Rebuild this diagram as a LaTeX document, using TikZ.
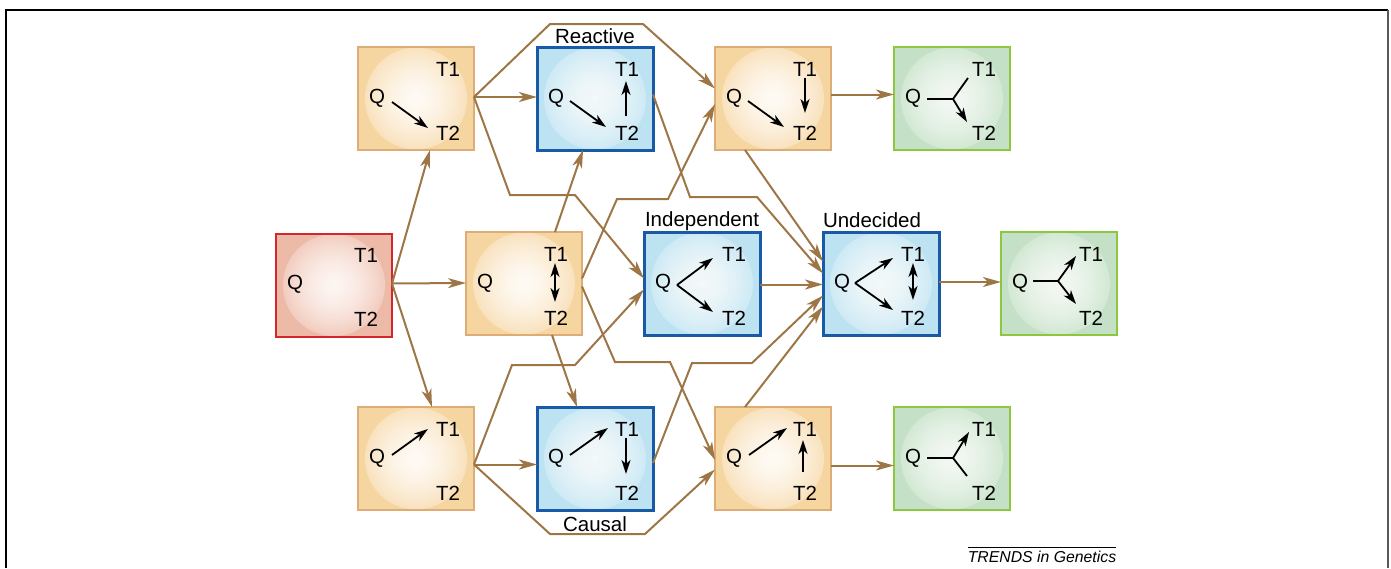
\documentclass[tikz,border=0pt]{standalone}
\usepackage{fontspec}
\setmainfont{Liberation Sans}
\usetikzlibrary{arrows.meta,calc}
\definecolor{linebrown}{RGB}{158,118,70}
\definecolor{ocorner}{RGB}{246,214,160}
\definecolor{orim}{RGB}{249,226,190}
\definecolor{ocenter}{RGB}{254,250,244}
\definecolor{oborder}{RGB}{222,172,118}
\definecolor{bcorner}{RGB}{189,226,242}
\definecolor{brim}{RGB}{206,234,245}
\definecolor{bcenter}{RGB}{243,248,249}
\definecolor{bborder}{RGB}{24,90,165}
\definecolor{gcorner}{RGB}{196,224,198}
\definecolor{grim}{RGB}{211,233,212}
\definecolor{gcenter}{RGB}{243,247,243}
\definecolor{gborder}{RGB}{141,198,63}
\definecolor{rcorner}{RGB}{237,186,167}
\definecolor{rrim}{RGB}{242,205,192}
\definecolor{rcenter}{RGB}{253,245,242}
\definecolor{rborder}{RGB}{210,40,45}
\newcommand\qtlabels[1]{%
  \node[lbl] (#1q) at ($(#1.north west)+(19,51)$) {Q};
  \node[lbl] (#1t1) at ($(#1.north west)+(90,22)$) {T1};
  \node[lbl] (#1t2) at ($(#1.north west)+(90,86)$) {T2};}
\begin{document}
\begin{tikzpicture}[x=1pt,y=-1pt,
  conn/.style={draw=linebrown, line width=2pt, -{Stealth[length=18pt,width=10pt,inset=5pt]}},
  inarr/.style={draw=black, line width=1.8pt, -{Stealth[length=14pt,width=9pt,inset=4pt]}},
  inline/.style={draw=black, line width=1.8pt},
  dblarr/.style={draw=black, line width=1.8pt, {Stealth[length=14pt,width=9pt,inset=4pt]}-{Stealth[length=14pt,width=9pt,inset=4pt]}},
  lbl/.style={font=\fontsize{20.5}{24}\selectfont, inner sep=0pt},
  box/.style={rectangle, minimum width=116pt, minimum height=103pt, inner sep=0pt, outer sep=0pt,
     path picture={\fill[#1corner] (path picture bounding box.south west) rectangle (path picture bounding box.north east);
       \foreach \k in {0,...,30}{%
         \pgfmathsetmacro\rr{51*(1-\k/31)}%
         \pgfmathsetmacro\pc{100*(1-(1-\k/31)^1.6)}%
         \fill[#1center!\pc!#1rim] (path picture bounding box.center) circle (\rr pt);}},
     draw=#1border},
  obox/.style={box=o, line width=2pt},
  bbox/.style={box=b, line width=3pt},
  gbox/.style={box=g, line width=2pt},
  rbox/.style={box=r, line width=2pt},
]
\useasboundingbox (0,0) rectangle (1391,568);
% frame
\draw[line width=1.5pt] (6,568) -- (6,10) -- (1388,10);
\draw[line width=2.5pt, black!65] (1388,10) -- (1388,568);

% boxes
\node[rbox] (R) at (334,285) {};
\node[obox] (A1) at (416,98.5) {};
\node[bbox] (B1) at (595,98.5) {};
\node[obox] (C1) at (773,98.5) {};
\node[gbox] (D1) at (952,98.5) {};
\node[obox] (A2) at (524,283.5) {};
\node[bbox] (B2) at (702,283.5) {};
\node[bbox] (C2) at (881,283.5) {};
\node[gbox] (D2) at (1059,283.5) {};
\node[obox] (A3) at (416,458.5) {};
\node[bbox] (B3) at (595,458.5) {};
\node[obox] (C3) at (773,458.5) {};
\node[gbox] (D3) at (952,458.5) {};

\qtlabels{R}\qtlabels{A1}\qtlabels{B1}\qtlabels{C1}\qtlabels{D1}
\qtlabels{A2}\qtlabels{B2}\qtlabels{C2}\qtlabels{D2}
\qtlabels{A3}\qtlabels{B3}\qtlabels{C3}\qtlabels{D3}

% inner glyph arrows
\begin{scope}[shift={(A1.north west)}] \draw[inarr] (34,55) -- (70,81); \end{scope}
\begin{scope}[shift={(B1.north west)}] \draw[inarr] (33,54) -- (69,80); \draw[inarr] (89,69) -- (89,34); \end{scope}
\begin{scope}[shift={(C1.north west)}] \draw[inarr] (33,54) -- (69,80); \draw[inarr] (90,31) -- (90,66); \end{scope}
\begin{scope}[shift={(D1.north west)}] \draw[inline] (33,52) -- (59,52) -- (74,31); \draw[inarr] (59,52) -- (73,75); \end{scope}
\begin{scope}[shift={(A2.north west)}] \draw[dblarr] (89,31) -- (89,70); \end{scope}
\begin{scope}[shift={(B2.north west)}] \draw[inarr] (33,53) -- (69,26); \draw[inarr] (33,53) -- (69,80); \end{scope}
\begin{scope}[shift={(C2.north west)}] \draw[inarr] (32,51) -- (70,26); \draw[inarr] (32,51) -- (70,78); \draw[dblarr] (90,31) -- (90,68); \end{scope}
\begin{scope}[shift={(D2.north west)}] \draw[inline] (32,49) -- (57,49); \draw[inarr] (57,49) -- (75,24); \draw[inarr] (57,49) -- (75,72); \end{scope}
\begin{scope}[shift={(A3.north west)}] \draw[inarr] (34,48) -- (70,22); \end{scope}
\begin{scope}[shift={(B3.north west)}] \draw[inarr] (33,48) -- (71,21); \draw[inarr] (89,31) -- (89,67); \end{scope}
\begin{scope}[shift={(C3.north west)}] \draw[inarr] (34,48) -- (72,21); \draw[inarr] (88,65) -- (88,33); \end{scope}
\begin{scope}[shift={(D3.north west)}] \draw[inline] (33,51) -- (59,51) -- (73,69); \draw[inarr] (59,51) -- (75,25); \end{scope}

% connectors
\draw[conn] ($(R.east)+(0,-1.5)$) -- ($(A1.south)+(14,0)$);
\draw[conn] ($(R.east)+(0,-1.5)$) -- ($(A2.west)+(0,-0.5)$);
\draw[conn] ($(R.east)+(0,-1.5)$) -- ($(A3.north)+(16,0)$);

\draw[conn] ($(A1.east)+(0,-1.5)$) -- ($(B1.west)+(0,-1.5)$);
\draw[conn] ($(A1.east)+(0,-1.5)$) -- (550,24) -- (643,24) -- ($(C1.west)+(0,-10)$);
\draw[conn] ($(A1.east)+(0,-1.5)$) -- (510,195) -- (575,195) -- ($(B2.west)+(0,-5)$);

\draw[conn] ($(A2.north)+(31,0)$) -- ($(B1.south)+(-12,0)$);
\draw[conn] ($(A2.east)+(0,-5)$) -- (617,199) -- (668,199) -- ($(C1.west)+(0,5.5)$);
\draw[conn] ($(A2.east)+(0,3)$) -- (615,362) -- (670,362) -- ($(C3.west)+(0,1.5)$);
\draw[conn] ($(A2.south)+(28,0)$) -- ($(B3.north)+(-18,0)$);

\draw[conn] ($(A3.east)+(0,6)$) -- ($(B3.west)+(0,6)$);
\draw[conn] ($(A3.east)+(0,6)$) -- (550,534) -- (645,534) -- ($(C3.west)+(0,11)$);
\draw[conn] ($(A3.east)+(0,6)$) -- (512,365) -- (575,365) -- ($(B2.west)+(0,6)$);

\draw[conn] ($(B1.east)+(0,-4)$) -- (690,197) -- (757,197) -- ($(C2.west)+(0,-10)$);
\draw[conn] ($(C1.south)+(-28,0)$) -- ($(C2.west)+(0,-22)$);
\draw[conn] ($(B2.east)+(0,1)$) -- ($(C2.west)+(0,1)$);
\draw[conn] ($(B3.east)+(0,4.5)$) -- (692,363) -- (752,363) -- ($(C2.west)+(0,12)$);
\draw[conn] ($(C3.north)+(-28,0)$) -- ($(C2.west)+(0,23)$);

\draw[conn] ($(C1.east)+(0,-4)$) -- ($(D1.west)+(0,-4)$);
\draw[conn] ($(C2.east)+(0,-1.5)$) -- ($(D2.west)+(0,-1.5)$);
\draw[conn] ($(C3.east)+(0,7)$) -- ($(D3.west)+(0,7)$);

% labels
\node[lbl, anchor=base] (reactive) at (595,43) {Reactive};
\node[lbl, anchor=base] (indep) at (702,226) {Independent};
\node[lbl, anchor=base] (undec) at (872,227) {Undecided};
\node[lbl, anchor=base] (causal) at (595,531) {Causal};
\node[font=\fontsize{15.8}{18}\selectfont\itshape, inner sep=0pt, anchor=base] (trends) at (1042,562) {TRENDS in Genetics};
\draw[line width=1pt] ($(trends.north west)+(0,-3)$) -- ($(trends.north east)+(0,-3)$);
\end{tikzpicture}
\end{document}
